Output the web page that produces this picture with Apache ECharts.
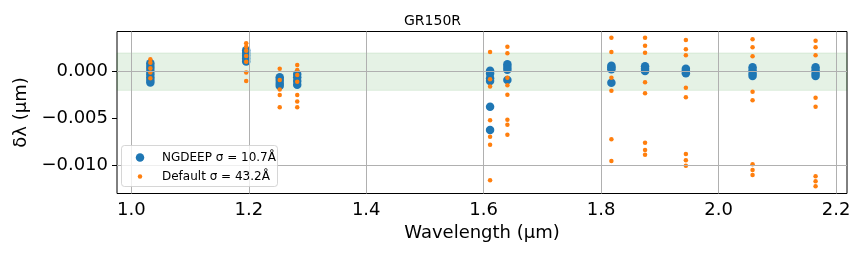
<!DOCTYPE html>
<html>
<head>
<meta charset="utf-8">
<script src="https://cdn.jsdelivr.net/npm/echarts@6/dist/echarts.min.js"></script>
<style>
  html, body { margin: 0; padding: 0; background: #fff; }
  #chart { width: 865px; height: 260px; }
</style>
</head>
<body>
<div id="chart"></div>
<script>
// Wavelength of each calibration line (µm).
const lineWaves = [1.0324, 1.1956, 1.2527, 1.2825, 1.6109, 1.6404, 1.8175, 1.8748, 1.9443, 2.0579, 2.1652];

// Offsets per line, NGDEEP calibration (µm).
const ngdeepDy = [
    [0.0009, 0.0006, 0.0003, 0.0000, -0.0003, -0.0006, -0.0009, -0.00115],
    [0.0023, 0.0020, 0.0017, 0.0014, 0.0011],
    [-0.0006, -0.0009, -0.0012, -0.0015],
    [-0.00025, -0.0006, -0.0010, -0.0014],
    [0.0001, -0.0002, -0.0007, -0.0010, -0.00375, -0.00624],
    [0.0008, 0.0005, 0.0002, -0.0009],
    [0.00064, 0.00045, 0.00026, -0.00118],
    [0.00058, 0.0003, 0.00007],
    [0.0003, 0.0001, -0.00017],
    [0.00047, 0.00015, -0.0002, -0.00046],
    [0.00047, 0.00015, -0.0002, -0.00046]
];

// Offsets per line, default calibration (µm).
const defaultDy = [
    [0.00133, 0.00096, 0.00036, -0.0001, -0.0007],
    [0.00304, 0.00268, 0.00225, 0.00168, 0.00107, -0.0001, -0.001],
    [0.0003, -0.0009, -0.0019, -0.0025, -0.0038],
    [0.00072, 0.00018, -0.00035, -0.00107, -0.0025, -0.0032, -0.0038],
    [0.0021, -0.0008, -0.0016, -0.0052, -0.00696, -0.00782, -0.01163],
    [0.00268, 0.00197, -0.00064, -0.00146, -0.00246, -0.00514, -0.00567, -0.00675],
    [0.00364, 0.00211, -0.00064, -0.00203, -0.00724, -0.00956],
    [0.00364, 0.00278, 0.00203, -0.00113, -0.00231, -0.0076, -0.00838, -0.00889],
    [0.00339, 0.0024, 0.00176, -0.00171, -0.00274, -0.00881, -0.00949, -0.01006],
    [0.00347, 0.00261, 0.00165, -0.00214, -0.00306, -0.00991, -0.01052, -0.01106],
    [0.00332, 0.00261, 0.00176, -0.00278, -0.00375, -0.0112, -0.01173, -0.01227]
];

const xTicks = [1.0, 1.2, 1.4, 1.6, 1.8, 2.0, 2.2];
const yTicks = [0.0, -0.005, -0.010];
const bandLimits = [-0.002, 0.002];

const ngdeepName = 'NGDEEP σ = 10.7Å';
const defaultName = 'Default σ = 43.2Å';

const toPoints = (offsets) => offsets.flatMap((list, i) => list.map(dy => [lineWaves[i], dy]));

const FONT = 'DejaVu Sans';
const GRID_COLOR = '#b0b0b0';
const BLUE_SIZE = 8.5;
const ORANGE_SIZE = 4.5;

const chart = echarts.init(document.getElementById('chart'), null, {renderer: 'canvas'});

// Legend entries: marker centred at x=140, text starting at x~162.
const legendEntry = (name, size, top) => ({
    data: [{name: name, icon: 'circle'}],
    left: 140 - size / 2, top: top, padding: 0,
    itemWidth: size, itemHeight: size,
    textStyle: {fontFamily: FONT, fontSize: 12, color: '#000', padding: [0, 0, 0, 162 - (140 + size / 2) - 5]},
    selectedMode: false, z: 20
});

chart.setOption({
    animation: false,
    textStyle: {fontFamily: FONT},
    title: {
        text: 'GR150R',
        left: 'center',
        top: 9,
        textStyle: {fontFamily: FONT, fontSize: 14, fontWeight: 'normal', color: '#000'}
    },
    grid: {
        left: 117, right: 18, top: 31.5, bottom: 66.5,
        show: true, borderColor: '#000', borderWidth: 1, backgroundColor: 'transparent'
    },
    xAxis: {
        type: 'value',
        min: 0.9756, max: 2.2187,
        name: 'Wavelength (μm)',
        nameLocation: 'middle',
        nameGap: 29,
        nameTextStyle: {fontFamily: FONT, fontSize: 18, color: '#000'},
        axisLine: {show: false},
        splitLine: {show: false},
        axisTick: {show: true, inside: false, length: 5, customValues: xTicks, lineStyle: {color: '#000'}},
        axisLabel: {
            customValues: xTicks,
            margin: 8,
            fontFamily: FONT, fontSize: 18, color: '#000',
            formatter: (v) => v.toFixed(1)
        }
    },
    yAxis: {
        type: 'value',
        min: -0.01304, max: 0.0043,
        name: 'δλ (μm)',
        nameLocation: 'middle',
        nameGap: 79,
        nameRotate: 90,
        nameTextStyle: {fontFamily: FONT, fontSize: 18, color: '#000'},
        axisLine: {show: false},
        splitLine: {show: false},
        axisTick: {show: true, inside: false, length: 5, customValues: yTicks, lineStyle: {color: '#000'}},
        axisLabel: {
            customValues: yTicks,
            margin: 9,
            fontFamily: FONT, fontSize: 18, color: '#000',
            formatter: (v) => (v < -1e-12 ? '\u2212' : '') + Math.abs(v).toFixed(3)
        }
    },
    legend: [
        legendEntry(ngdeepName, BLUE_SIZE, 151.5),
        legendEntry(defaultName, ORANGE_SIZE, 170.5)
    ],
    graphic: [{
        type: 'rect',
        left: 121, top: 145, z: 15,
        shape: {width: 156, height: 41, r: 3},
        style: {fill: 'rgba(255,255,255,0.8)', stroke: 'rgba(204,204,204,0.8)', lineWidth: 1}
    }],
    series: [
        {
            // Tolerance band.
            type: 'scatter', data: [], z: 1, silent: true,
            markArea: {
                silent: true,
                itemStyle: {color: 'rgba(0,128,0,0.1)', borderColor: 'rgba(0,128,0,0.1)', borderWidth: 1},
                data: [[{yAxis: bandLimits[0]}, {yAxis: bandLimits[1]}]]
            }
        },
        {
            name: ngdeepName,
            type: 'scatter', z: 2,
            symbol: 'circle', symbolSize: BLUE_SIZE,
            itemStyle: {color: '#1f77b4', opacity: 1},
            data: toPoints(ngdeepDy)
        },
        {
            name: defaultName,
            type: 'scatter', z: 2,
            symbol: 'circle', symbolSize: ORANGE_SIZE,
            itemStyle: {color: '#ff7f0e', opacity: 1},
            data: toPoints(defaultDy)
        },
        {
            // Grid lines, drawn above the points as in the original.
            type: 'scatter', data: [], z: 3, silent: true,
            markLine: {
                silent: true,
                symbol: ['none', 'none'],
                label: {show: false},
                lineStyle: {type: 'solid', color: GRID_COLOR, width: 1, opacity: 1},
                emphasis: {disabled: true},
                data: [
                    ...xTicks.map(v => ({xAxis: v})),
                    ...yTicks.map(v => ({yAxis: v}))
                ]
            }
        }
    ]
});
</script>
</body>
</html>
